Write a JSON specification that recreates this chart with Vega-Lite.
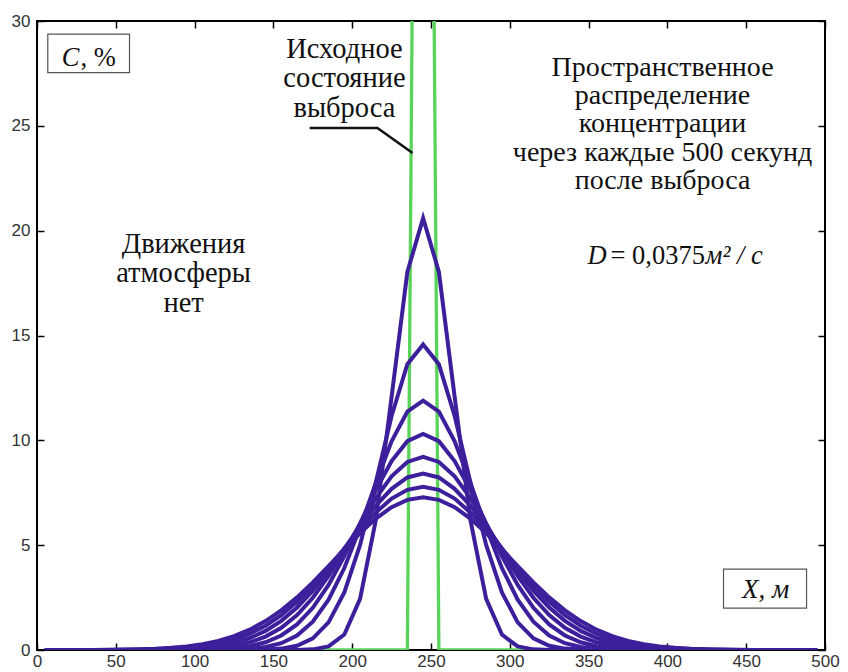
{
  "$schema": "https://vega.github.io/schema/vega-lite/v6.json",
  "width": 788,
  "height": 629,
  "autosize": "none",
  "padding": {"left": 37, "top": 21, "right": 23, "bottom": 22},
  "background": "white",
  "config": {
    "view": {"stroke": "#000", "strokeWidth": 2},
    "axis": {"grid": false, "domain": false, "labelFont": "Liberation Sans", "labelFontSize": 17, "labelColor": "#333", "tickColor": "#000", "tickWidth": 1.5, "title": null, "labelFlush": false, "labelOverlap": false}
  },
  "datasets": {
    "initial": [
      {"x": 5, "c": 0}, {"x": 235, "c": 0}, {"x": 245, "c": 100}, {"x": 255, "c": 0}, {"x": 495, "c": 0}
    ],
    "curves": [
      {"k":1,"x":5,"c":0},{"k":1,"x":155,"c":0},{"k":1,"x":165,"c":0.004},{"k":1,"x":175,"c":0.03},{"k":1,"x":185,"c":0.17},{"k":1,"x":195,"c":0.735},{"k":1,"x":205,"c":2.44},{"k":1,"x":215,"c":6.2},{"k":1,"x":225,"c":12.08},{"k":1,"x":235,"c":18.03},{"k":1,"x":245,"c":20.6},{"k":1,"x":255,"c":18.03},{"k":1,"x":265,"c":12.08},{"k":1,"x":275,"c":6.2},{"k":1,"x":285,"c":2.44},{"k":1,"x":295,"c":0.735},{"k":1,"x":305,"c":0.17},{"k":1,"x":315,"c":0.03},{"k":1,"x":325,"c":0.004},{"k":1,"x":335,"c":0},{"k":1,"x":495,"c":0},
      {"k":2,"x":5,"c":0},{"k":2,"x":125,"c":0},{"k":2,"x":135,"c":0.005},{"k":2,"x":145,"c":0.019},{"k":2,"x":155,"c":0.066},{"k":2,"x":165,"c":0.204},{"k":2,"x":175,"c":0.555},{"k":2,"x":185,"c":1.32},{"k":2,"x":195,"c":2.75},{"k":2,"x":205,"c":5.01},{"k":2,"x":215,"c":8.0},{"k":2,"x":225,"c":11.16},{"k":2,"x":235,"c":13.63},{"k":2,"x":245,"c":14.57},{"k":2,"x":255,"c":13.63},{"k":2,"x":265,"c":11.16},{"k":2,"x":275,"c":8.0},{"k":2,"x":285,"c":5.01},{"k":2,"x":295,"c":2.75},{"k":2,"x":305,"c":1.32},{"k":2,"x":315,"c":0.555},{"k":2,"x":325,"c":0.204},{"k":2,"x":335,"c":0.066},{"k":2,"x":345,"c":0.019},{"k":2,"x":355,"c":0.005},{"k":2,"x":365,"c":0},{"k":2,"x":495,"c":0},
      {"k":3,"x":5,"c":0},{"k":3,"x":95,"c":0},{"k":3,"x":105,"c":0.002},{"k":3,"x":115,"c":0.0065},{"k":3,"x":125,"c":0.02},{"k":3,"x":135,"c":0.055},{"k":3,"x":145,"c":0.14},{"k":3,"x":155,"c":0.325},{"k":3,"x":165,"c":0.692},{"k":3,"x":175,"c":1.35},{"k":3,"x":185,"c":2.4},{"k":3,"x":195,"c":3.91},{"k":3,"x":205,"c":5.84},{"k":3,"x":215,"c":7.97},{"k":3,"x":225,"c":9.95},{"k":3,"x":235,"c":11.37},{"k":3,"x":245,"c":11.89},{"k":3,"x":255,"c":11.37},{"k":3,"x":265,"c":9.95},{"k":3,"x":275,"c":7.97},{"k":3,"x":285,"c":5.84},{"k":3,"x":295,"c":3.91},{"k":3,"x":305,"c":2.4},{"k":3,"x":315,"c":1.35},{"k":3,"x":325,"c":0.692},{"k":3,"x":335,"c":0.325},{"k":3,"x":345,"c":0.14},{"k":3,"x":355,"c":0.055},{"k":3,"x":365,"c":0.02},{"k":3,"x":375,"c":0.0065},{"k":3,"x":385,"c":0.002},{"k":3,"x":395,"c":0},{"k":3,"x":495,"c":0},
      {"k":4,"x":5,"c":0},{"k":4,"x":75,"c":0},{"k":4,"x":85,"c":0.002},{"k":4,"x":95,"c":0.006},{"k":4,"x":105,"c":0.015},{"k":4,"x":115,"c":0.037},{"k":4,"x":125,"c":0.085},{"k":4,"x":135,"c":0.183},{"k":4,"x":145,"c":0.367},{"k":4,"x":155,"c":0.692},{"k":4,"x":165,"c":1.22},{"k":4,"x":175,"c":2.01},{"k":4,"x":185,"c":3.1},{"k":4,"x":195,"c":4.48},{"k":4,"x":205,"c":6.04},{"k":4,"x":215,"c":7.63},{"k":4,"x":225,"c":9.01},{"k":4,"x":235,"c":9.96},{"k":4,"x":245,"c":10.3},{"k":4,"x":255,"c":9.96},{"k":4,"x":265,"c":9.01},{"k":4,"x":275,"c":7.63},{"k":4,"x":285,"c":6.04},{"k":4,"x":295,"c":4.48},{"k":4,"x":305,"c":3.1},{"k":4,"x":315,"c":2.01},{"k":4,"x":325,"c":1.22},{"k":4,"x":335,"c":0.692},{"k":4,"x":345,"c":0.367},{"k":4,"x":355,"c":0.183},{"k":4,"x":365,"c":0.085},{"k":4,"x":375,"c":0.037},{"k":4,"x":385,"c":0.015},{"k":4,"x":395,"c":0.006},{"k":4,"x":405,"c":0.002},{"k":4,"x":415,"c":0},{"k":4,"x":495,"c":0},
      {"k":5,"x":5,"c":0},{"k":5,"x":65,"c":0},{"k":5,"x":75,"c":0.004},{"k":5,"x":85,"c":0.01},{"k":5,"x":95,"c":0.023},{"k":5,"x":105,"c":0.049},{"k":5,"x":115,"c":0.102},{"k":5,"x":125,"c":0.198},{"k":5,"x":135,"c":0.366},{"k":5,"x":145,"c":0.64},{"k":5,"x":155,"c":1.06},{"k":5,"x":165,"c":1.67},{"k":5,"x":175,"c":2.49},{"k":5,"x":185,"c":3.53},{"k":5,"x":195,"c":4.73},{"k":5,"x":205,"c":6.01},{"k":5,"x":215,"c":7.24},{"k":5,"x":225,"c":8.28},{"k":5,"x":235,"c":8.97},{"k":5,"x":245,"c":9.21},{"k":5,"x":255,"c":8.97},{"k":5,"x":265,"c":8.28},{"k":5,"x":275,"c":7.24},{"k":5,"x":285,"c":6.01},{"k":5,"x":295,"c":4.73},{"k":5,"x":305,"c":3.53},{"k":5,"x":315,"c":2.49},{"k":5,"x":325,"c":1.67},{"k":5,"x":335,"c":1.06},{"k":5,"x":345,"c":0.64},{"k":5,"x":355,"c":0.366},{"k":5,"x":365,"c":0.198},{"k":5,"x":375,"c":0.102},{"k":5,"x":385,"c":0.049},{"k":5,"x":395,"c":0.023},{"k":5,"x":405,"c":0.01},{"k":5,"x":415,"c":0.004},{"k":5,"x":425,"c":0},{"k":5,"x":495,"c":0},
      {"k":6,"x":5,"c":0},{"k":6,"x":45,"c":0},{"k":6,"x":55,"c":0.003},{"k":6,"x":65,"c":0.006},{"k":6,"x":75,"c":0.014},{"k":6,"x":85,"c":0.028},{"k":6,"x":95,"c":0.057},{"k":6,"x":105,"c":0.108},{"k":6,"x":115,"c":0.197},{"k":6,"x":125,"c":0.343},{"k":6,"x":135,"c":0.571},{"k":6,"x":145,"c":0.911},{"k":6,"x":155,"c":1.39},{"k":6,"x":165,"c":2.03},{"k":6,"x":175,"c":2.83},{"k":6,"x":185,"c":3.78},{"k":6,"x":195,"c":4.83},{"k":6,"x":205,"c":5.89},{"k":6,"x":215,"c":6.89},{"k":6,"x":225,"c":7.69},{"k":6,"x":235,"c":8.23},{"k":6,"x":245,"c":8.41},{"k":6,"x":255,"c":8.23},{"k":6,"x":265,"c":7.69},{"k":6,"x":275,"c":6.89},{"k":6,"x":285,"c":5.89},{"k":6,"x":295,"c":4.83},{"k":6,"x":305,"c":3.78},{"k":6,"x":315,"c":2.83},{"k":6,"x":325,"c":2.03},{"k":6,"x":335,"c":1.39},{"k":6,"x":345,"c":0.911},{"k":6,"x":355,"c":0.571},{"k":6,"x":365,"c":0.343},{"k":6,"x":375,"c":0.197},{"k":6,"x":385,"c":0.108},{"k":6,"x":395,"c":0.057},{"k":6,"x":405,"c":0.028},{"k":6,"x":415,"c":0.014},{"k":6,"x":425,"c":0.006},{"k":6,"x":435,"c":0.003},{"k":6,"x":445,"c":0},{"k":6,"x":495,"c":0},
      {"k":7,"x":5,"c":0},{"k":7,"x":35,"c":0},{"k":7,"x":45,"c":0.004},{"k":7,"x":55,"c":0.008},{"k":7,"x":65,"c":0.016},{"k":7,"x":75,"c":0.032},{"k":7,"x":85,"c":0.059},{"k":7,"x":95,"c":0.107},{"k":7,"x":105,"c":0.186},{"k":7,"x":115,"c":0.312},{"k":7,"x":125,"c":0.502},{"k":7,"x":135,"c":0.777},{"k":7,"x":145,"c":1.16},{"k":7,"x":155,"c":1.66},{"k":7,"x":165,"c":2.3},{"k":7,"x":175,"c":3.06},{"k":7,"x":185,"c":3.92},{"k":7,"x":195,"c":4.84},{"k":7,"x":205,"c":5.74},{"k":7,"x":215,"c":6.56},{"k":7,"x":225,"c":7.22},{"k":7,"x":235,"c":7.64},{"k":7,"x":245,"c":7.79},{"k":7,"x":255,"c":7.64},{"k":7,"x":265,"c":7.22},{"k":7,"x":275,"c":6.56},{"k":7,"x":285,"c":5.74},{"k":7,"x":295,"c":4.84},{"k":7,"x":305,"c":3.92},{"k":7,"x":315,"c":3.06},{"k":7,"x":325,"c":2.3},{"k":7,"x":335,"c":1.66},{"k":7,"x":345,"c":1.16},{"k":7,"x":355,"c":0.777},{"k":7,"x":365,"c":0.502},{"k":7,"x":375,"c":0.312},{"k":7,"x":385,"c":0.186},{"k":7,"x":395,"c":0.107},{"k":7,"x":405,"c":0.059},{"k":7,"x":415,"c":0.032},{"k":7,"x":425,"c":0.016},{"k":7,"x":435,"c":0.008},{"k":7,"x":445,"c":0.004},{"k":7,"x":455,"c":0},{"k":7,"x":495,"c":0},
      {"k":8,"x":5,"c":0},{"k":8,"x":15,"c":0.001},{"k":8,"x":25,"c":0.002},{"k":8,"x":35,"c":0.005},{"k":8,"x":45,"c":0.009},{"k":8,"x":55,"c":0.018},{"k":8,"x":65,"c":0.033},{"k":8,"x":75,"c":0.059},{"k":8,"x":85,"c":0.102},{"k":8,"x":95,"c":0.171},{"k":8,"x":105,"c":0.277},{"k":8,"x":115,"c":0.435},{"k":8,"x":125,"c":0.66},{"k":8,"x":135,"c":0.969},{"k":8,"x":145,"c":1.38},{"k":8,"x":155,"c":1.89},{"k":8,"x":165,"c":2.51},{"k":8,"x":175,"c":3.22},{"k":8,"x":185,"c":4.0},{"k":8,"x":195,"c":4.8},{"k":8,"x":205,"c":5.58},{"k":8,"x":215,"c":6.27},{"k":8,"x":225,"c":6.81},{"k":8,"x":235,"c":7.16},{"k":8,"x":245,"c":7.28},{"k":8,"x":255,"c":7.16},{"k":8,"x":265,"c":6.81},{"k":8,"x":275,"c":6.27},{"k":8,"x":285,"c":5.58},{"k":8,"x":295,"c":4.8},{"k":8,"x":305,"c":4.0},{"k":8,"x":315,"c":3.22},{"k":8,"x":325,"c":2.51},{"k":8,"x":335,"c":1.89},{"k":8,"x":345,"c":1.38},{"k":8,"x":355,"c":0.969},{"k":8,"x":365,"c":0.66},{"k":8,"x":375,"c":0.435},{"k":8,"x":385,"c":0.277},{"k":8,"x":395,"c":0.171},{"k":8,"x":405,"c":0.102},{"k":8,"x":415,"c":0.059},{"k":8,"x":425,"c":0.033},{"k":8,"x":435,"c":0.018},{"k":8,"x":445,"c":0.009},{"k":8,"x":455,"c":0.005},{"k":8,"x":465,"c":0.002},{"k":8,"x":475,"c":0.001},{"k":8,"x":485,"c":0},{"k":8,"x":495,"c":0}
    ],
    "boxes": [
      {"x": 6.85, "x2": 58.7, "y": 29.37, "y2": 27.54},
      {"x": 435.6, "x2": 488.3, "y": 3.86, "y2": 2.0}
    ],
    "leader": [
      {"x": 173, "y": 24.9}, {"x": 216, "y": 24.9}, {"x": 238.3, "y": 23.7}
    ],
    "blockLeft": [
      {"x": 195.1, "y": 28.24, "t": "Исходное\nсостояние\nвыброса"},
      {"x": 93, "y": 18.95, "t": "Движения\nатмосферы\nнет"}
    ],
    "blockRight": [
      {"x": 396.9, "y": 27.38, "t": "Пространственное\nраспределение\nконцентрации\nчерез каждые 500 секунд\nпосле выброса"}
    ],
    "italicCenter": [
      {"x": 462.3, "y": 2.48, "t": "X, м"}
    ],
    "italicRight": [
      {"x": 27.0, "y": 27.86, "t": "C"},
      {"x": 361.4, "y": 18.43, "t": "D"}
    ],
    "uprightLeft": [
      {"x": 27.6, "y": 27.86, "t": ", %"},
      {"x": 363.9, "y": 18.43, "t": "= 0,0375"}
    ],
    "italicLeft": [
      {"x": 424.2, "y": 18.43, "t": "м² / с"}
    ]
  },
  "layer": [
    {
      "data": {"name": "initial"},
      "mark": {"type": "line", "color": "#5ad35a", "strokeWidth": 3.3, "clip": true},
      "encoding": {
        "x": {"field": "x", "type": "quantitative", "scale": {"domain": [0, 500], "nice": false, "zero": false},
              "axis": {"orient": "bottom", "values": [0, 50, 100, 150, 200, 250, 300, 350, 400, 450, 500], "tickSize": -7, "labelPadding": 10, "labelBaseline": "top"}},
        "y": {"field": "c", "type": "quantitative", "scale": {"domain": [0, 30], "nice": false},
              "axis": {"orient": "left", "values": [0, 5, 10, 15, 20, 25, 30], "tickSize": -7, "labelPadding": 14}}
      }
    },
    {
      "data": {"name": "curves"},
      "mark": {"type": "line", "color": "#3d1f9c", "strokeWidth": 4, "clip": true},
      "encoding": {
        "x": {"field": "x", "type": "quantitative", "scale": {"domain": [0, 500], "nice": false, "zero": false},
              "axis": {"orient": "top", "values": [0, 50, 100, 150, 200, 250, 300, 350, 400, 450, 500], "tickSize": -7, "labels": false}},
        "y": {"field": "c", "type": "quantitative", "scale": {"domain": [0, 30], "nice": false},
              "axis": {"orient": "right", "values": [0, 5, 10, 15, 20, 25, 30], "tickSize": -7, "labels": false}},
        "detail": {"field": "k", "type": "nominal"}
      }
    },
    {
      "data": {"name": "leader"},
      "mark": {"type": "line", "color": "#111", "strokeWidth": 2.5},
      "encoding": {
        "x": {"field": "x", "type": "quantitative", "axis": null},
        "y": {"field": "y", "type": "quantitative", "axis": null}
      }
    },
    {
      "data": {"name": "boxes"},
      "mark": {"type": "rect", "fill": "white", "stroke": "#555", "strokeWidth": 1.2},
      "encoding": {
        "x": {"field": "x", "type": "quantitative", "axis": null},
        "x2": {"field": "x2"},
        "y": {"field": "y", "type": "quantitative", "axis": null},
        "y2": {"field": "y2"}
      }
    },
    {
      "data": {"name": "blockLeft"},
      "mark": {"type": "text", "font": "Liberation Serif", "fontSize": 28.5, "lineHeight": 29.5, "lineBreak": "\n", "color": "#111", "align": "center", "baseline": "alphabetic"},
      "encoding": {
        "x": {"field": "x", "type": "quantitative", "axis": null},
        "y": {"field": "y", "type": "quantitative", "axis": null},
        "text": {"field": "t"}
      }
    },
    {
      "data": {"name": "blockRight"},
      "mark": {"type": "text", "font": "Liberation Serif", "fontSize": 28, "lineHeight": 28.2, "lineBreak": "\n", "color": "#111", "align": "center", "baseline": "alphabetic"},
      "encoding": {
        "x": {"field": "x", "type": "quantitative", "axis": null},
        "y": {"field": "y", "type": "quantitative", "axis": null},
        "text": {"field": "t"}
      }
    },
    {
      "data": {"name": "italicCenter"},
      "mark": {"type": "text", "font": "Liberation Serif", "fontStyle": "italic", "fontSize": 27, "color": "#111", "align": "center", "baseline": "alphabetic"},
      "encoding": {
        "x": {"field": "x", "type": "quantitative", "axis": null},
        "y": {"field": "y", "type": "quantitative", "axis": null},
        "text": {"field": "t"}
      }
    },
    {
      "data": {"name": "italicRight"},
      "mark": {"type": "text", "font": "Liberation Serif", "fontStyle": "italic", "fontSize": 26.5, "color": "#111", "align": "right", "baseline": "alphabetic"},
      "encoding": {
        "x": {"field": "x", "type": "quantitative", "axis": null},
        "y": {"field": "y", "type": "quantitative", "axis": null},
        "text": {"field": "t"}
      }
    },
    {
      "data": {"name": "uprightLeft"},
      "mark": {"type": "text", "font": "Liberation Serif", "fontSize": 26.5, "color": "#111", "align": "left", "baseline": "alphabetic"},
      "encoding": {
        "x": {"field": "x", "type": "quantitative", "axis": null},
        "y": {"field": "y", "type": "quantitative", "axis": null},
        "text": {"field": "t"}
      }
    },
    {
      "data": {"name": "italicLeft"},
      "mark": {"type": "text", "font": "Liberation Serif", "fontStyle": "italic", "fontSize": 26.5, "color": "#111", "align": "left", "baseline": "alphabetic"},
      "encoding": {
        "x": {"field": "x", "type": "quantitative", "axis": null},
        "y": {"field": "y", "type": "quantitative", "axis": null},
        "text": {"field": "t"}
      }
    }
  ],
  "resolve": {"axis": {"x": "independent", "y": "independent"}}
}
